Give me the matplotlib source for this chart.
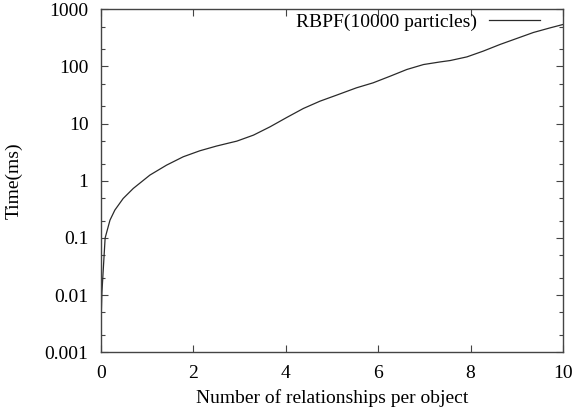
import numpy as np
import matplotlib.pyplot as plt
from matplotlib.ticker import LogLocator, NullFormatter

plt.rcParams['font.family'] = ['Liberation Serif', 'DejaVu Serif']

# curve (x = relationships per object, y = time in ms)
rel = [0.0, 0.02, 0.09, 0.195, 0.30, 0.48, 0.70, 1.06, 1.42, 1.78, 2.14, 2.50,
       2.79, 2.94, 3.30, 3.66, 4.02, 4.38, 4.74, 5.10, 5.53, 5.89, 6.26, 6.62,
       6.98, 7.34, 7.56, 7.92, 8.27, 8.64, 9.0, 9.36, 9.72, 10.0]
time_ms = [0.003, 0.011, 0.1, 0.205, 0.307, 0.49, 0.736, 1.26, 1.88, 2.63, 3.35, 4.05,
           4.62, 4.94, 6.29, 8.8, 12.8, 18.4, 24.7, 31.5, 42.3, 51.7, 67.6, 88.5,
           108, 120, 127, 147, 185, 243, 309, 393, 473, 542]

x_ticks = [0, 2, 4, 6, 8, 10]
y_ticks = [0.001, 0.01, 0.1, 1, 10, 100, 1000]
y_labels = ['0.001', '0.01', '0.1', '1', '10', '100', '1000']

fig = plt.figure(figsize=(5.77, 4.13), dpi=100)
ax = fig.add_axes([0.175, 0.147, 0.8007, 0.8305])

ax.plot(rel, time_ms, color='#2a2a2a', lw=0.9, label='RBPF(10000 particles)')

ax.set_yscale('log')
ax.set_xlim(0, 10)
ax.set_ylim(0.001, 1000)
ax.set_xticks(x_ticks)
ax.set_yticks(y_ticks)
ax.set_yticklabels(y_labels)
ax.yaxis.set_minor_locator(LogLocator(base=10, subs=(2.0, 5.0)))
ax.yaxis.set_minor_formatter(NullFormatter())

ax.tick_params(which='both', direction='in', top=True, right=True,
               labelsize=14, color='#444444')
ax.tick_params(which='major', length=5, width=0.8)
ax.tick_params(which='minor', length=3, width=0.8)
ax.tick_params(axis='x', which='major', pad=9)
ax.tick_params(axis='y', which='major', pad=9)
for s in ax.spines.values():
    s.set_color('#444444')
    s.set_linewidth(1.0)

ax.set_xlabel('Number of relationships per object', fontsize=14, labelpad=5)
ax.set_ylabel('Time(ms)', fontsize=14, labelpad=16)

ax.legend(loc='center right', bbox_to_anchor=(0.967, 0.963), borderaxespad=0,
          frameon=False, markerfirst=False, fontsize=14,
          handlelength=2.6, handletextpad=0.65)

plt.savefig('out.png', dpi=100)
